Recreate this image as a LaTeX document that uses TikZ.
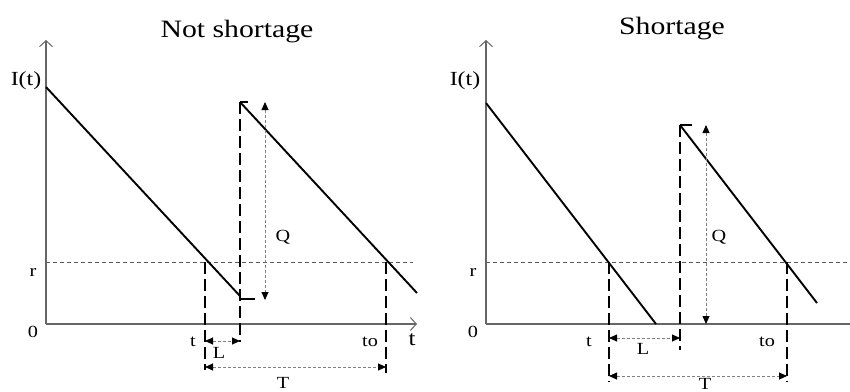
\documentclass[tikz,border=0pt]{standalone}
\usepackage{graphicx}
\usepackage{fontspec}
\setmainfont{Liberation Serif}
\usetikzlibrary{arrows.meta}
\newcommand\hsx[1]{\scalebox{1.19}[1]{#1}}
\tikzset{
  axisline/.style={draw=black!60, line width=1.8pt, -{Straight Barb[length=6pt,width=13pt,line width=1pt]}},
  curve/.style={draw=black, line width=1.9pt},
  vdash/.style={draw=black, line width=1.9pt, dash pattern=on 12pt off 5pt},
  refline/.style={draw=black!65, line width=0.8pt, dash pattern=on 4pt off 3pt},
  dimarrow/.style={draw=black!50, line width=0.9pt, dash pattern=on 3pt off 2pt, {Triangle[length=8pt,width=7pt,black]}-{Triangle[length=8pt,width=7pt,black]}},
  title/.style={inner sep=0pt, anchor=base, font=\fontsize{25}{28}\selectfont},
  lab/.style={inner sep=0pt, anchor=base, font=\fontsize{17}{19}\selectfont},
  ylab/.style={inner sep=0pt, anchor=base, font=\fontsize{20}{22}\selectfont},
  tlab/.style={inner sep=0pt, anchor=base, font=\fontsize{21}{23}\selectfont},
}
\begin{document}
\begin{tikzpicture}[x=1pt,y=-1pt]
\useasboundingbox (0,0) rectangle (850,391);
% ---------- Left panel: Not shortage ----------
\coordinate (o1) at (46,324);
\coordinate (ytop1) at (46,40);
\coordinate (xend1) at (417,324);
\coordinate (a1) at (46,87);
\coordinate (b1) at (240,296);
\coordinate (c1) at (240,102);
\coordinate (c1t) at (248,102);
\coordinate (d1) at (417,293);
\coordinate (v1top) at (240,102);
\coordinate (v1bot) at (240,342);
\coordinate (h1a) at (240,299);
\coordinate (h1b) at (255,299);
\coordinate (q1a) at (265,102);
\coordinate (q1b) at (265,300);
\coordinate (r1a) at (46,262);
\coordinate (r1b) at (413,262);
\coordinate (t1a) at (205,262);
\coordinate (t1b) at (205,370);
\coordinate (to1a) at (386,262);
\coordinate (to1b) at (386,373);
\coordinate (l1a) at (205,341);
\coordinate (l1b) at (240,341);
\coordinate (T1a) at (205,367);
\coordinate (T1b) at (386,367);

\draw[refline] (r1a) -- (r1b);
\draw[axisline] (o1) -- (ytop1);
\draw[axisline] (o1) -- (xend1);
\draw[curve] (a1) -- (b1);
\draw[curve] (c1) -- (d1);
\draw[curve] (c1) -- (c1t);
\draw[curve] (h1a) -- (h1b);
\draw[vdash] (v1top) -- (v1bot);
\draw[vdash] (t1a) -- (t1b);
\draw[vdash] (to1a) -- (to1b);
\draw[dimarrow] (q1a) -- (q1b);
\draw[dimarrow] (l1a) -- (l1b);
\draw[dimarrow] (T1a) -- (T1b);

\node[title] (ttl1) at (237,37) {\hsx{Not shortage}};
\node[ylab] (it1) at (26,85) {\hsx{I(t)}};
\node[lab] (rl1) at (33,276) {\hsx{r}};
\node[lab] (zl1) at (33,337) {\hsx{0}};
\node[lab] (ql1) at (283,241) {\hsx{Q}};
\node[lab] (tl1) at (193,346) {\hsx{t}};
\node[lab] (tol1) at (370,346) {\hsx{to}};
\node[tlab] (ax1) at (412,345) {\hsx{t}};
\node[lab] (ll1) at (219,358) {\hsx{L}};
\node[lab] (Tl1) at (283,388) {\hsx{T}};

% ---------- Right panel: Shortage ----------
\coordinate (o2) at (486,324);
\coordinate (ytop2) at (486,40);
\coordinate (xend2) at (850,324);
\coordinate (a2) at (486,103);
\coordinate (b2) at (656,324);
\coordinate (c2) at (680,125);
\coordinate (c2t) at (692,125);
\coordinate (d2) at (817,303);
\coordinate (v2top) at (680,125);
\coordinate (v2bot) at (680,350);
\coordinate (q2a) at (706,125);
\coordinate (q2b) at (706,324);
\coordinate (r2a) at (486,262);
\coordinate (r2b) at (850,262);
\coordinate (t2a) at (609,262);
\coordinate (t2b) at (609,382);
\coordinate (to2a) at (787,262);
\coordinate (to2b) at (787,382);
\coordinate (l2a) at (609,338);
\coordinate (l2b) at (680,338);
\coordinate (T2a) at (609,376);
\coordinate (T2b) at (787,376);

\draw[refline] (r2a) -- (r2b);
\draw[axisline] (o2) -- (ytop2);
\draw[draw=black!60, line width=1.8pt] (o2) -- (xend2);
\draw[curve] (a2) -- (b2);
\draw[curve] (c2) -- (d2);
\draw[curve] (c2) -- (c2t);
\draw[vdash] (v2top) -- (v2bot);
\draw[vdash] (t2a) -- (t2b);
\draw[vdash] (to2a) -- (to2b);
\draw[dimarrow] (q2a) -- (q2b);
\draw[dimarrow] (l2a) -- (l2b);
\draw[dimarrow] (T2a) -- (T2b);

\node[title] (ttl2) at (672,34) {\hsx{Shortage}};
\node[ylab] (it2) at (465,85) {\hsx{I(t)}};
\node[lab] (rl2) at (473,276) {\hsx{r}};
\node[lab] (zl2) at (473,337) {\hsx{0}};
\node[lab] (ql2) at (719,241) {\hsx{Q}};
\node[lab] (tl2) at (589,346) {\hsx{t}};
\node[lab] (tol2) at (767,346) {\hsx{to}};
\node[lab] (ll2) at (643,354) {\hsx{L}};
\node[lab] (Tl2) at (705,389) {\hsx{T}};
\end{tikzpicture}
\end{document}
